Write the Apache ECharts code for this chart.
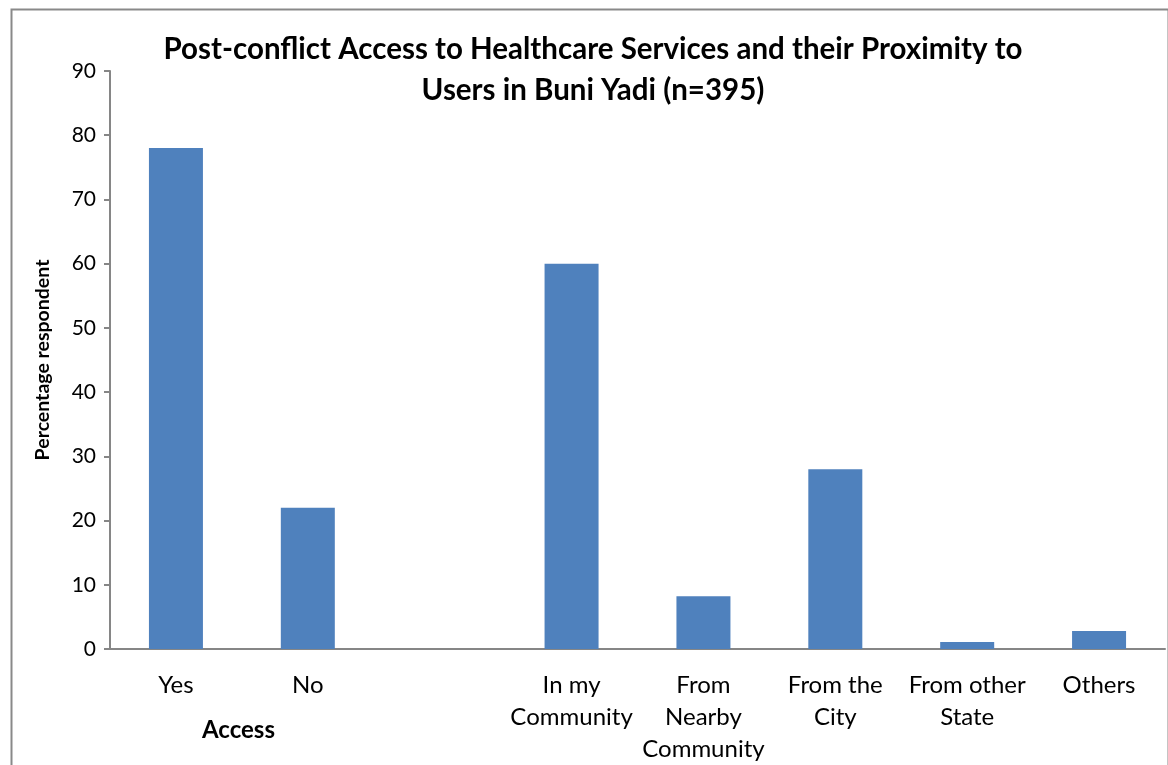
<!DOCTYPE html>
<html>
<head>
<meta charset="utf-8">
<script src="https://cdn.jsdelivr.net/npm/echarts@6/dist/echarts.min.js"></script>
<style>html,body{margin:0;padding:0;background:#fff}#c{width:1168px;height:765px}</style>
</head>
<body>
<div id="c"></div>
<script>
const categories = ["Yes", "No", "", "In my\nCommunity", "From\nNearby\nCommunity", "From the\nCity", "From other\nState", "Others"];
const values = [78, 22, null, 60, 8.2, 28, 1.1, 2.8];
const yTicks = { min: 0, max: 90, interval: 10 };
const titleText = "Post-conflict Access to Healthcare Services and their Proximity to\nUsers in Buni Yadi (n=395)";
const yName = "Percentage respondent";
const groupLabel = "Access";

const FONT = "Lato";
const chart = echarts.init(document.getElementById('c'), null, { renderer: 'canvas' });
chart.setOption({
  animation: false,
  backgroundColor: '#fff',
  title: {
    text: titleText,
    left: 588, top: 24, textAlign: 'center',
    textStyle: { fontFamily: FONT, fontWeight: 'bold', fontSize: 29.5, lineHeight: 41, color: '#000' }
  },
  grid: { left: 110, right: 3, top: 71, bottom: 110 },
  xAxis: {
    type: 'category', data: categories,
    axisLine: { lineStyle: { color: '#868686', width: 2 } },
    axisTick: { show: false },
    axisLabel: { interval: 0, fontFamily: FONT, fontSize: 24, lineHeight: 32, color: '#000', margin: 20, verticalAlign: 'top' }
  },
  yAxis: {
    type: 'value', min: yTicks.min, max: yTicks.max, interval: yTicks.interval,
    name: yName, nameLocation: 'middle', nameGap: 57, nameRotate: 90,
    nameTextStyle: { fontFamily: FONT, fontWeight: 'bold', fontSize: 19.5, color: '#000' },
    splitLine: { show: false },
    axisLine: { show: true, lineStyle: { color: '#868686', width: 2 } },
    axisTick: { show: true, length: 6, lineStyle: { color: '#868686', width: 2 } },
    axisLabel: { fontFamily: FONT, fontSize: 21, color: '#000', margin: 14 }
  },
  series: [{
    type: 'bar', data: values, barWidth: 54,
    itemStyle: { color: '#4F81BD' }
  }],
  graphic: [
    { type: 'rect', left: 9, top: 7, shape: { width: 1157, height: 800 },
      style: { fill: 'none', stroke: '#898989', lineWidth: 2 }, silent: true, z: 100 },
    { type: 'text', left: 202, top: 718, style: { text: groupLabel, fontFamily: FONT, fontWeight: 'bold', fontSize: 24, fill: '#000' } }
  ]
});
</script>
</body>
</html>
